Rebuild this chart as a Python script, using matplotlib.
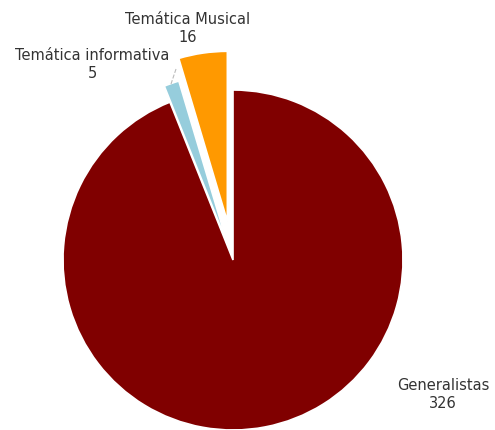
import matplotlib.pyplot as plt

# data
categories = ["Generalistas", "Temática informativa", "Temática Musical"]
values = [326, 5, 16]
colors = ["#800000", "#96cddc", "#ff9900"]
explode_frac = [0.0, 0.1, 0.23]

# label anchor points (figure pixels, origin bottom-left)
label_pos = [(443, 36), (92, 366), (188, 403)]

W, H = 495, 431
fig = plt.figure(figsize=(W / 100, H / 100), dpi=100)
ax = fig.add_axes([0, 0, 1, 1])

cx, cy, r = 233, 170, 170
ax.pie(values, colors=colors, explode=[e * r for e in explode_frac],
       startangle=90, counterclock=False, center=(cx, cy), radius=r,
       wedgeprops=dict(edgecolor="white", linewidth=1.2), frame=True)
ax.set_xlim(0, W)
ax.set_ylim(0, H)
ax.set_aspect("equal")
ax.axis("off")

# faint leader for the small slice
ax.plot([176, 171], [361, 346], color="#bbbbbb", lw=0.8, ls="--")

for name, val, (x, y) in zip(categories, values, label_pos):
    ax.text(x, y, f"{name}\n{val}", ha="center", va="center",
            fontsize=10.5, color="#333333", linespacing=1.25)

fig.savefig("out.png", dpi=100)
